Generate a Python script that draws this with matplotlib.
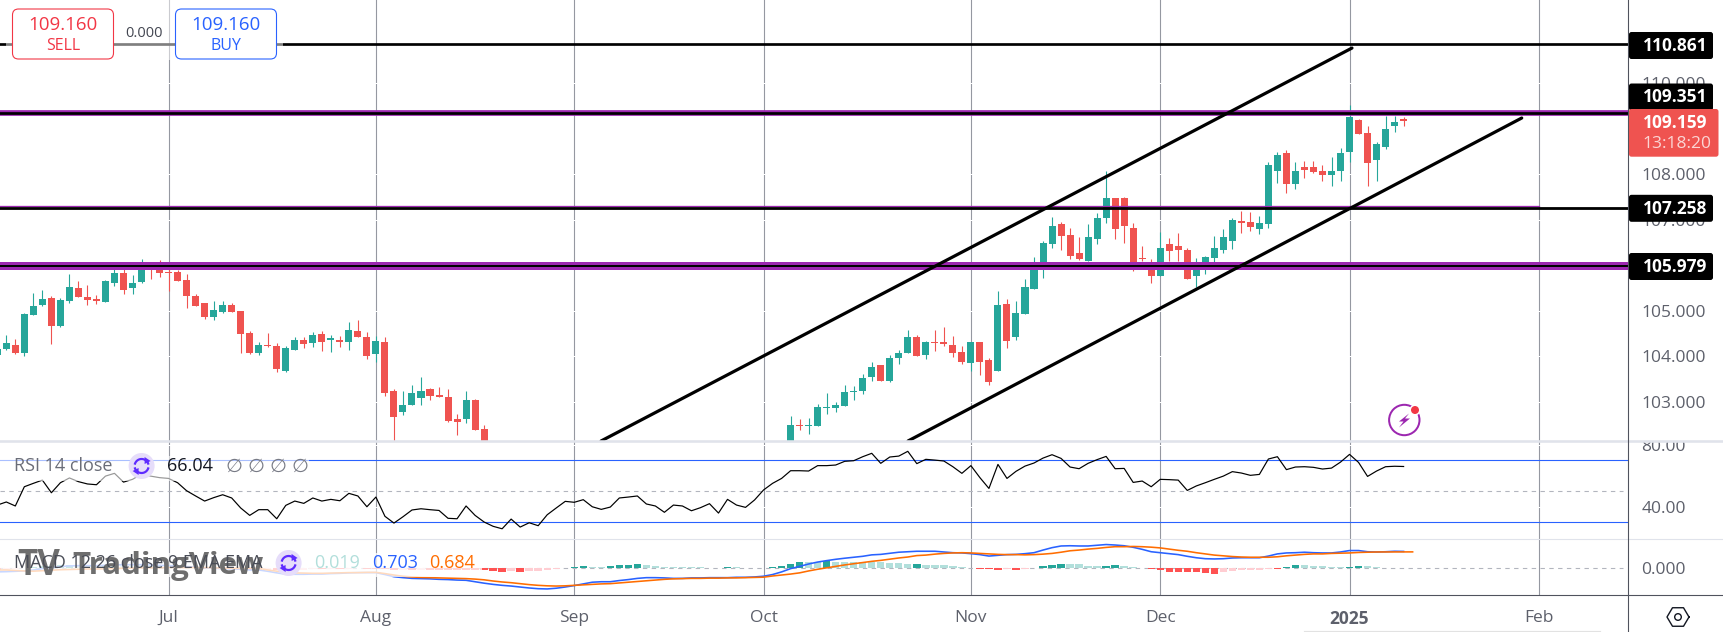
import matplotlib
matplotlib.use('Agg')
import matplotlib.pyplot as plt
from matplotlib.patches import FancyBboxPatch, Rectangle, Circle, Polygon
import numpy as np

plt.rcParams['font.family'] = ['Open Sans', 'DejaVu Sans']

# daily candles, bar numbers count from the Jul 1 bar minus 18
first_start = -1
first_open = [104.02, 104.16, 104.24, 104.07, 104.90, 105.12, 105.28, 104.66, 105.21, 105.50, 105.30, 105.25, 105.19, 105.61, 105.83, 105.50, 105.63, 106.00, 106.00, 105.85, 105.85, 105.67, 105.32, 105.17, 104.86, 104.97, 105.12, 104.99, 104.51, 104.07, 104.24, 104.22, 103.67, 104.13, 104.35, 104.29, 104.49, 104.35, 104.35, 104.31, 104.55, 104.42, 104.05, 104.31, 103.23, 102.77, 102.92, 103.08, 103.28, 103.14, 103.10, 102.62, 102.62, 103.03, 102.40]
first_close = [104.16, 104.29, 104.07, 104.92, 105.10, 105.25, 104.66, 105.23, 105.52, 105.30, 105.23, 105.21, 105.65, 105.83, 105.45, 105.61, 105.97, 105.89, 105.83, 105.83, 105.65, 105.32, 105.10, 104.86, 105.01, 105.12, 104.97, 104.49, 104.07, 104.24, 104.22, 103.72, 104.18, 104.35, 104.27, 104.46, 104.31, 104.40, 104.31, 104.57, 104.42, 104.00, 104.33, 103.19, 102.66, 102.92, 103.19, 103.23, 103.12, 103.10, 102.57, 102.55, 103.03, 102.38, 102.05]
first_high = [104.21, 104.46, 104.38, 104.94, 105.39, 105.45, 105.32, 105.28, 105.80, 105.65, 105.56, 105.34, 105.67, 105.91, 105.91, 105.78, 106.13, 106.04, 106.11, 105.93, 105.89, 105.80, 105.36, 105.17, 105.21, 105.21, 105.17, 104.99, 104.55, 104.31, 104.51, 104.29, 104.22, 104.42, 104.42, 104.53, 104.55, 104.46, 104.44, 104.75, 104.79, 104.53, 104.44, 104.42, 103.28, 103.23, 103.36, 103.54, 103.30, 103.32, 103.28, 102.73, 103.23, 103.06, 102.49]
first_low = [103.99, 104.13, 104.05, 104.00, 104.90, 105.10, 104.27, 104.64, 105.17, 105.30, 105.12, 105.14, 105.19, 105.54, 105.36, 105.36, 105.61, 105.69, 105.74, 105.43, 105.65, 105.06, 105.10, 104.82, 104.79, 104.95, 104.97, 104.07, 104.05, 104.02, 104.20, 103.65, 103.65, 104.13, 104.18, 104.20, 104.11, 104.09, 104.20, 104.13, 104.42, 103.94, 103.87, 103.12, 102.14, 102.71, 102.92, 102.92, 103.03, 103.10, 102.55, 102.27, 102.53, 102.38, 102.00]

second_start = 87
second_open = [102.05, 102.49, 102.46, 102.46, 102.86, 102.86, 102.90, 103.21, 103.23, 103.54, 103.80, 103.45, 103.96, 104.07, 104.42, 104.02, 104.31, 104.31, 104.24, 104.09, 103.85, 104.31, 103.91, 103.67, 105.14, 104.42, 104.92, 105.47, 105.97, 106.46, 106.90, 106.66, 106.27, 106.09, 106.57, 107.03, 107.47, 107.47, 106.82, 106.16, 106.00, 105.76, 106.46, 106.42, 106.33, 105.76, 105.93, 106.16, 106.33, 106.53, 106.97, 106.95, 106.79, 106.90, 108.07, 108.46, 107.78, 108.16, 108.16, 108.07, 107.98, 108.07, 108.49, 109.19, 108.90, 108.31, 108.60, 109.06, 109.21]
second_close = [102.49, 102.46, 102.49, 102.88, 102.88, 102.92, 103.21, 103.23, 103.52, 103.76, 103.45, 103.96, 104.07, 104.42, 104.00, 104.31, 104.29, 104.27, 104.07, 103.87, 104.31, 103.87, 103.43, 105.12, 104.33, 104.95, 105.52, 105.97, 106.49, 106.86, 106.64, 106.20, 106.13, 106.62, 107.03, 107.47, 106.79, 106.86, 105.93, 106.13, 105.76, 106.38, 106.31, 106.33, 105.69, 106.04, 106.18, 106.38, 106.62, 106.99, 106.93, 106.84, 106.93, 108.20, 108.42, 107.78, 108.07, 108.09, 108.05, 107.98, 108.07, 108.46, 109.25, 108.88, 108.24, 108.66, 108.99, 109.14, 109.16]
second_high = [102.68, 102.62, 102.64, 102.95, 103.19, 102.99, 103.36, 103.34, 103.61, 103.87, 103.80, 104.02, 104.13, 104.57, 104.46, 104.33, 104.57, 104.64, 104.44, 104.22, 104.31, 104.31, 103.96, 105.43, 105.25, 105.21, 105.69, 106.18, 106.53, 107.06, 106.95, 106.82, 106.62, 106.90, 107.14, 108.07, 107.47, 107.50, 106.93, 106.42, 106.13, 106.73, 106.60, 106.71, 106.38, 106.16, 106.20, 106.64, 106.79, 107.03, 107.19, 107.17, 107.08, 108.27, 108.49, 108.53, 108.27, 108.29, 108.29, 108.20, 108.38, 108.57, 109.52, 109.21, 109.06, 108.71, 109.28, 109.28, 109.26]
second_low = [102.00, 102.38, 102.29, 102.46, 102.73, 102.77, 102.90, 103.03, 103.17, 103.45, 103.45, 103.43, 103.83, 104.07, 104.00, 103.94, 104.11, 104.22, 103.98, 103.83, 103.67, 103.58, 103.36, 103.67, 104.18, 104.35, 104.92, 105.47, 105.72, 106.38, 106.33, 106.13, 106.11, 106.09, 106.46, 106.93, 106.57, 106.49, 105.86, 106.09, 105.61, 105.76, 106.09, 106.09, 105.69, 105.52, 105.80, 106.07, 106.27, 106.35, 106.71, 106.75, 106.68, 106.82, 107.80, 107.58, 107.67, 107.91, 108.02, 107.85, 107.74, 107.85, 108.27, 108.88, 107.74, 107.85, 108.55, 108.93, 109.06]

# indicators, one value per bar from first_start on
rsi_values = [41.0, 43.0, 40.4, 52.9, 55.1, 57.2, 49.0, 55.5, 58.6, 56.2, 54.7, 54.2, 59.8, 61.6, 55.9, 57.7, 61.1, 59.8, 58.8, 58.3, 55.5, 50.3, 46.9, 43.6, 45.8, 47.7, 45.6, 39.1, 34.3, 38.0, 38.0, 32.1, 40.8, 43.6, 42.1, 45.6, 43.6, 44.7, 43.8, 48.6, 46.9, 39.9, 46.2, 33.7, 29.3, 33.4, 37.8, 38.6, 38.0, 37.5, 32.4, 32.1, 40.4, 34.3, 30.0, 27.2, 25.6, 31.9, 26.7, 29.5, 27.6, 34.7, 39.1, 43.4, 42.8, 44.5, 39.9, 38.2,
              39.7, 45.6, 46.2, 46.9, 41.7, 40.4, 36.3, 41.0, 40.4, 37.3, 39.3, 41.9, 35.8, 44.7, 41.0, 39.5, 44.3, 50.8, 55.1, 58.3, 63.3, 63.3, 63.1, 66.6, 66.6, 67.0, 69.4, 69.8, 72.4, 74.6, 68.1, 72.2, 72.8, 75.9, 67.9, 70.7, 70.2, 69.6, 65.9, 61.6, 66.6, 58.8, 51.8, 67.4, 58.3, 62.9, 66.3, 68.3, 71.5, 73.7, 71.3, 65.7, 64.6, 68.1, 70.5, 72.6, 64.6, 64.8, 55.7, 56.6, 52.9, 57.7, 57.5, 57.2, 50.5, 53.4, 55.5, 57.7, 59.8, 62.7, 61.8, 60.3, 60.9, 70.9, 72.4, 64.0, 65.7, 65.9, 65.5, 64.4, 65.0, 68.9, 73.9, 68.7, 59.6, 63.1, 65.9, 66.2, 66.04]

macd_values = [-.15, -.14, -.125, -.11, -.07, -.014, .03, .07, .10, .11, .11, .11, .125, .14, .15, .15, .15, .14, .125, .11, .10, .07, .04, .014, 0, -.014, -.03, -.04, -.07, -.07, -.125, -.19, -.25, -.25, -.25, -.24, -.24, -.22, -.21, -.19, -.18, -.18, -.18, -.26, -.35, -.39, -.42, -.43, -.44, -.46, -.47, -.49, -.50, -.56, -.62, -.67, -.71, -.74, -.78, -.82, -.85, -.86, -.83, -.78, -.72, -.65, -.58, -.56,
               -.56, -.51, -.47, -.42, -.39, -.39, -.40, -.42, -.42, -.40, -.40, -.39, -.39, -.39, -.375, -.375, -.36, -.33, -.26, -.15, -.014, .08, .18, .26, .32, .375, .42, .46, .50, .56, .58, .625, .67, .69, .71, .71, .71, .68, .65, .64, .61, .57, .51, .54, .57, .58, .61, .65, .76, .86, .93, .94, .93, .93, .96, .99, .97, .94, .875, .79, .69, .65, .61, .57, .50, .44, .40, .39, .40, .43, .44, .44, .44, .51, .60, .64, .65, .67, .65, .64, .64, .68, .74, .74, .69, .68, .69, .71, .703]
signal_values = [-.07, -.07, -.09, -.11, -.12, -.10, -.08, -.06, -.05, -.04, -.03, -.03, -.02, -.01, 0, .01, .02, .02, .02, .03, .03, .03, .03, .03, .02, .01, 0, 0, 0, 0, -.07, -.12, -.17, -.19, -.20, -.21, -.21, -.20, -.19, -.18, -.18, -.17, -.17, -.22, -.28, -.33, -.36, -.38, -.39, -.40, -.41, -.42, -.43, -.45, -.48, -.53, -.57, -.60, -.64, -.68, -.71, -.73, -.74, -.73, -.71, -.69, -.67, -.65,
                 -.64, -.61, -.58, -.55, -.52, -.49, -.46, -.44, -.43, -.42, -.42, -.41, -.41, -.40, -.40, -.39, -.38, -.37, -.32, -.28, -.24, -.19, -.11, -.04, .02, .08, .14, .19, .24, .29, .33, .38, .43, .47, .53, .55, .59, .62, .64, .65, .64, .62, .60, .58, .57, .57, .56, .57, .59, .62, .67, .73, .76, .80, .83, .87, .90, .90, .91, .90, .88, .85, .80, .75, .71, .65, .60, .55, .52, .49, .47, .46, .46, .46, .48, .52, .55, .58, .60, .60, .62, .63, .64, .66, .67, .68, .68, .68, .684, .684]
hist_values = [-.08, -.07, -.03, 0, .05, .08, .11, .13, .15, .15, .14, .14, .145, .15, .15, .14, .13, .12, .11, .08, .07, .04, .01, -.01, -.02, -.02, -.03, -.04, -.06, -.07, -.05, -.07, -.08, -.06, -.05, -.03, -.03, -.02, -.02, -.01, 0, -.01, -.01, -.04, -.07, -.06, -.06, -.05, -.05, -.06, -.06, -.07, -.07, -.075, -.08, -.13, -.14, -.10, -.15, -.13, -.11, -.08, -.03, .03, .06, .08, .07, .065,
               .10, .13, .14, .18, .14, .09, .06, .05, .05, .05, .05, .03, .02, .05, .05, .03, .02, .03, .07, .10, .16, .26, .26, .26, .29, .28, .28, .27, .27, .26, .25, .23, .21, .17, .18, .15, .14, .14, .10, .05, .02, -.03, -.04, -.09, -.03, -.07, -.02, .03, .08, .12, .20, .20, .16, .11, .10, .11, .14, .09, .05, .02, -.03, -.07, -.17, -.17, -.17, -.17, -.20, -.23, -.17, -.12, -.09, -.07, -.05, -.03, -.03, .05, .13, .12, .09, .08, .06, .06, .07, .10, .08, .04, .01, .02, .03, .019]

# price levels and channels
level_prices = [110.861, 109.351, 107.258, 105.979]
level_labels = ['110.861', '109.351', '107.258', '105.979']
upper_channel_bars = [65.97, 149.27]
upper_channel_prices = [102.133, 110.77]
lower_channel_bars = [100.02, 168.1]
lower_channel_prices = [102.133, 109.232]
thin_purple_price = 107.309
thin_purple_end_bar = 170

# 106 and 109 sit behind the level boxes
price_ticks = [103, 104, 105, 107, 108, 110]
rsi_ticks = [40, 80]
month_bars = [18, 41, 63, 84, 107, 128, 149, 170]
month_labels = ['Jul', 'Aug', 'Sep', 'Oct', 'Nov', 'Dec', '2025', 'Feb']

W, H = 1723, 632
UP = '#26A69A'
DOWN = '#EF5350'
GRID = '#9598A1'
PURPLE = '#9C27B0'
BLUE = '#2962FF'
ORANGE = '#FF6D00'
AXIS_TEXT = '#5D606B'
AXIS_LINE = '#50535E'
PX = 0.72  # one pixel in points at dpi 100
AXIS_RIGHT = 1628


def pane(fig, top, bottom):
    ax = fig.add_axes([0, 1 - bottom / H, AXIS_RIGHT / W, (bottom - top) / H])
    ax.set_xlim(-0.70, 179.89)
    for s in ax.spines.values():
        s.set_visible(False)
    ax.yaxis.tick_right()
    ax.tick_params(axis='y', length=0, pad=9.5, labelsize=12.5, labelcolor=AXIS_TEXT)
    ax.set_xticks([])
    for m in month_bars:
        ax.axvline(m, color=GRID, lw=1.1 * PX, zorder=1)
    return ax


def draw_candles(ax, start, opens, highs, lows, closes):
    opens, highs, lows, closes = map(np.array, (opens, highs, lows, closes))
    bars = np.arange(len(opens)) + start
    colors = [UP if c >= o else DOWN for o, c in zip(opens, closes)]
    ax.vlines(bars, lows, highs, colors=colors, lw=1.1 * PX, zorder=3)
    ax.bar(bars, np.abs(closes - opens).clip(0.02), bottom=np.minimum(opens, closes),
           width=0.78, color=colors, linewidth=0, zorder=3)


def sync_icon(ov, cx, cy):
    color = '#5E2BFF'
    ov.add_patch(Circle((cx, cy), 13, fc='#E6DDFA', ec='none', zorder=7))
    for a0, a1 in [(200, 340), (20, 160)]:
        t = np.radians(np.linspace(a0, a1, 30))
        ov.plot(cx + 7 * np.cos(t), cy + 7 * np.sin(t), color=color, lw=2.2 * PX, zorder=8)
    ov.add_patch(Polygon([(cx + 3, cy - 9), (cx + 9, cy - 5), (cx + 3, cy - 2)], fc=color, zorder=8))
    ov.add_patch(Polygon([(cx - 3, cy + 9), (cx - 9, cy + 5), (cx - 3, cy + 2)], fc=color, zorder=8))


fig = plt.figure(figsize=(W / 100, H / 100), dpi=100, facecolor='white')

# main price pane
ax = pane(fig, 0, 441)
ax.set_ylim(102.133, 111.826)
ax.set_yticks(price_ticks, [f'{p:.3f}' for p in price_ticks])
for p in price_ticks:
    ax.axhline(p, color='white', lw=1.0 * PX, zorder=1.5)

draw_candles(ax, first_start, first_open, first_high, first_low, first_close)
draw_candles(ax, second_start, second_open, second_high, second_low, second_close)

ax.axhline(level_prices[1], color=PURPLE, lw=5.7 * PX, zorder=4)
ax.axhline(level_prices[3], color=PURPLE, lw=8 * PX, zorder=4)
ax.plot([-1, thin_purple_end_bar], [thin_purple_price, thin_purple_price], color=PURPLE, lw=1.3 * PX, zorder=4)
ax.axhline(level_prices[0], color='black', lw=2.7 * PX, zorder=5)
ax.axhline(level_prices[1], color='black', lw=2.7 * PX, zorder=5)
ax.axhline(level_prices[2], color='black', lw=2.8 * PX, zorder=5)
ax.axhline(level_prices[3], color='black', lw=2.0 * PX, zorder=5)
ax.plot(upper_channel_bars, upper_channel_prices, color='black', lw=3.2 * PX, zorder=5, solid_capstyle='round')
ax.plot(lower_channel_bars, lower_channel_prices, color='black', lw=3.2 * PX, zorder=5, solid_capstyle='round')

# RSI pane
rsi_ax = pane(fig, 442, 539)
rsi_ax.set_ylim(80 - (539 - 445) / 1.54, 80 + 3 / 1.54)
rsi_ax.set_yticks(rsi_ticks, ['40.00', '80.00'])
for r in rsi_ticks:
    rsi_ax.axhline(r, color='white', lw=1.0 * PX, zorder=1.5)
rsi_ax.axhline(70, color=BLUE, lw=1.1 * PX, zorder=2)
rsi_ax.axhline(30, color=BLUE, lw=1.1 * PX, zorder=2)
rsi_ax.plot([-0.7, 179.3], [50, 50], color='#B2B5BE', lw=1.1 * PX, ls=(0, (4, 4)), zorder=2)
rsi_ax.plot(np.arange(len(rsi_values)) + first_start, rsi_values, color='black', lw=1.2 * PX, zorder=3)

# MACD pane
macd_ax = pane(fig, 539, 595)
macd_ax.set_ylim((568.3 - 595) / 24, (568.3 - 539) / 24)
macd_ax.set_yticks([0], ['0.000'])
macd_ax.plot([-0.7, 179.3], [0, 0], color='#B2B5BE', lw=1.1 * PX, ls=(0, (4, 4)), zorder=2)
hist_colors = []
for i, v in enumerate(hist_values):
    prev = hist_values[i - 1] if i else v
    if v >= 0:
        hist_colors.append('#26A69A' if v > prev else '#B2DFDB')
    else:
        hist_colors.append('#FFCDD2' if v > prev else '#FF5252')
macd_bars = np.arange(len(hist_values)) + first_start
macd_ax.bar(macd_bars, hist_values, width=0.82, color=hist_colors, linewidth=0, zorder=3)
macd_ax.plot(np.arange(len(macd_values)) + first_start, macd_values, color=BLUE, lw=1.6 * PX, zorder=4)
macd_ax.plot(np.arange(len(signal_values)) + first_start, signal_values, color=ORANGE, lw=1.6 * PX, zorder=5)

macd_ax.set_xticks(month_bars, month_labels)
macd_ax.tick_params(axis='x', length=0, pad=11, labelsize=12.5, labelcolor=AXIS_TEXT)
macd_ax.get_xticklabels()[6].set_fontweight('bold')

# overlay in pixels for the widgets, price boxes and legends
ov = fig.add_axes([0, 0, 1, 1], zorder=10)
ov.set_xlim(0, W)
ov.set_ylim(H, 0)
ov.axis('off')
ov.patch.set_alpha(0)

# frame lines
ov.add_patch(Rectangle((AXIS_RIGHT + 1, 436), W - AXIS_RIGHT, 5, fc='white', ec='none', zorder=1))
ov.plot([0, W], [441, 441], color='#E0E3EB', lw=2.6 * PX, zorder=2)
ov.plot([0, W], [538.7, 538.7], color='#E0E3EB', lw=1.1 * PX, zorder=2)
ov.plot([0, W], [595, 595], color=AXIS_LINE, lw=1.1 * PX, zorder=2)
ov.plot([AXIS_RIGHT, AXIS_RIGHT], [0, H], color=AXIS_LINE, lw=1.1 * PX, zorder=2)
ov.plot([1304, 1600], [631, 631], color='#E2E2E2', lw=1.2 * PX, zorder=2)

# buy and sell widget
ov.add_patch(Rectangle((6, 0), 277, 60, fc='white', ec='none', alpha=0.5, zorder=3))
for x0, color, price, word in [(12.5, '#F23645', '109.160', 'SELL'), (175.5, BLUE, '109.160', 'BUY')]:
    ov.add_patch(FancyBboxPatch((x0 + 6, 15), 101 - 12, 38, boxstyle='round,pad=6', fc='white', ec=color, lw=1.1 * PX, zorder=4))
    ov.text(x0 + 50.5, 25, price, color=color, fontsize=13.5, ha='center', va='center', zorder=5)
    ov.text(x0 + 50.5, 46, word, color=color, fontsize=11.5, ha='center', va='center', zorder=5)
ov.text(144.5, 33.5, '0.000', color='#434651', fontsize=10.5, ha='center', va='center', zorder=5)

# level boxes on the price scale
level_centres = [45.5, 97, 208.3, 266.5]
for lab, yc in zip(level_labels, level_centres):
    ov.add_patch(FancyBboxPatch((AXIS_RIGHT + 1, yc - 13.5), 84, 27, boxstyle='round,pad=0,rounding_size=2.5', fc='black', ec='none', zorder=3))
    ov.text(1642.5, yc + 0.3, lab, color='white', fontsize=12.5, fontweight='bold', ha='left', va='center', zorder=4)
ov.add_patch(FancyBboxPatch((AXIS_RIGHT + 1, 109), 89.5, 47.7, boxstyle='round,pad=0,rounding_size=2.5', fc=DOWN, ec='none', zorder=5))
ov.text(1642.5, 122.5, '109.159', color='white', fontsize=12.5, fontweight='bold', ha='left', va='center', zorder=6)
ov.text(1642.5, 144, '13:18:20', color='#FBD5D4', fontsize=12.5, ha='left', va='center', zorder=6)

# RSI legend
ov.add_patch(Rectangle((0, 456), 309, 25, fc='white', ec='none', alpha=0.6, zorder=3))
ov.text(13.5, 466, 'RSI 14 close', color='#6A6D78', fontsize=13, ha='left', va='center', zorder=6)
sync_icon(ov, 141.6, 466)
ov.text(167, 466, '66.04', color='#131722', fontsize=13, ha='left', va='center', zorder=6)
for x in [234, 256, 278, 300]:
    ov.text(x, 466, '\u2205', color='#787B86', fontsize=14, family='DejaVu Sans', ha='center', va='center', zorder=6)

# MACD legend and watermark
ov.add_patch(Rectangle((0, 553), 482, 24, fc='white', ec='none', alpha=0.75, zorder=3))
ov.text(17, 566, 'TV', color='#6E6E6E', fontsize=25, fontweight='bold', ha='left', va='center', zorder=4)
ov.text(72, 566, 'TradingView', color='#6E6E6E', fontsize=22.5, fontweight='bold', ha='left', va='center', zorder=4)
ov.text(13.5, 563, 'MACD 12 26 close 9 EMA EMA', color='#4A4D57', fontsize=13, ha='left', va='center', zorder=6)
sync_icon(ov, 288.6, 563)
ov.text(314.5, 563, '0.019', color='#B2DFDB', fontsize=13, ha='left', va='center', zorder=6)
ov.text(372, 563, '0.703', color=BLUE, fontsize=13, ha='left', va='center', zorder=6)
ov.text(429, 563, '0.684', color=ORANGE, fontsize=13, ha='left', va='center', zorder=6)

# lightning badge
ov.add_patch(Circle((1404.3, 420), 15.2, fc='none', ec=PURPLE, lw=2 * PX, zorder=6))
ov.add_patch(Polygon([(1409, 413.5), (1399, 421.5), (1403.5, 421.5), (1399, 427.5), (1410, 418.5), (1405, 418.5)], fc=PURPLE, ec='none', zorder=6))
ov.add_patch(Circle((1415, 410), 5.5, fc='white', ec='none', zorder=7))
ov.add_patch(Circle((1415, 410), 4, fc='#F23645', ec='none', zorder=8))

# settings icon
t = np.radians(np.arange(0, 361, 60))
ov.plot(1678 + 11 * np.cos(t), 617 + 9.3 * np.sin(t) * 1.15, color='#131722', lw=1.4 * PX, zorder=6)
ov.add_patch(Circle((1678, 617), 3.3, fc='none', ec='#131722', lw=1.4 * PX, zorder=6))

fig.savefig('out.png', dpi=100)
